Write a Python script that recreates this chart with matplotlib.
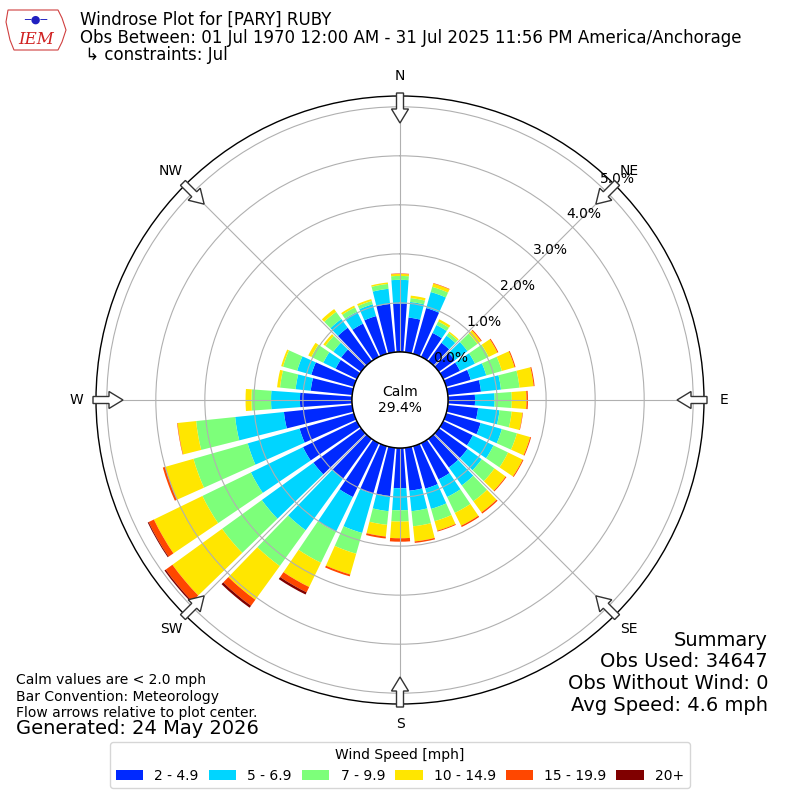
import numpy as np
import matplotlib
matplotlib.use("Agg")
import matplotlib.pyplot as plt
from matplotlib.patches import Circle, FancyArrow, Patch, Polygon

# direction bins (deg, meteorological, clockwise from N)
directions = np.arange(0, 360, 10)
speed_labels = ["2 - 4.9", "5 - 6.9", "7 - 9.9", "10 - 14.9", "15 - 19.9", "20+"]

# frequency [%] per direction for each speed bin
spd_2_5 = [0.99, 0.71, 0.97, 0.54, 0.46, 0.40, 0.38, 0.52, 0.68, 0.55, 0.62, 0.73,
           0.67, 0.72, 0.72, 0.82, 0.90, 0.88, 0.82, 0.99, 1.01, 1.22, 1.00, 1.20,
           1.22, 1.15, 1.40, 1.06, 0.85, 0.90, 0.48, 0.50, 0.84, 0.75, 0.80, 0.99]
spd_5_7 = [0.48, 0.32, 0.34, 0.18, 0.18, 0.32, 0.34, 0.33, 0.41, 0.40, 0.44, 0.45,
           0.47, 0.36, 0.45, 0.40, 0.43, 0.42, 0.45, 0.31, 0.83, 0.79, 1.30, 1.30,
           1.18, 1.10, 1.00, 0.59, 0.31, 0.30, 0.28, 0.20, 0.22, 0.27, 0.25, 0.31]
spd_7_10 = [0.08, 0.08, 0.11, 0.08, 0.07, 0.25, 0.31, 0.33, 0.38, 0.35, 0.25, 0.32,
            0.33, 0.32, 0.40, 0.36, 0.26, 0.31, 0.23, 0.28, 0.44, 0.70, 0.90, 1.00,
            1.10, 1.15, 0.80, 0.40, 0.32, 0.30, 0.27, 0.20, 0.18, 0.10, 0.07, 0.10]
spd_10_15 = [0.04, 0.05, 0.07, 0.05, 0.03, 0.09, 0.20, 0.27, 0.29, 0.30, 0.22, 0.28,
             0.33, 0.28, 0.28, 0.29, 0.20, 0.31, 0.34, 0.24, 0.44, 0.55, 0.85, 1.25,
             1.10, 0.60, 0.38, 0.12, 0.06, 0.04, 0.07, 0.05, 0.07, 0.04, 0.04, 0.03]
spd_15_20 = [0.01, 0.00, 0.01, 0.00, 0.00, 0.02, 0.02, 0.02, 0.02, 0.03, 0.01, 0.02,
             0.02, 0.02, 0.03, 0.03, 0.02, 0.03, 0.07, 0.04, 0.04, 0.12, 0.15, 0.17,
             0.12, 0.05, 0.01, 0.00, 0.00, 0.00, 0.00, 0.00, 0.00, 0.00, 0.00, 0.00]
spd_20p = [0.00, 0.00, 0.00, 0.00, 0.00, 0.00, 0.00, 0.00, 0.00, 0.00, 0.00, 0.00,
           0.00, 0.00, 0.00, 0.00, 0.00, 0.00, 0.00, 0.00, 0.00, 0.05, 0.05, 0.03,
           0.02, 0.00, 0.00, 0.00, 0.00, 0.00, 0.00, 0.00, 0.00, 0.00, 0.00, 0.00]
speed_bins = [spd_2_5, spd_5_7, spd_7_10, spd_10_15, spd_15_20, spd_20p]

calm_pct = 29.4
rticks = [0, 1, 2, 3, 4, 5]
compass = ["N", "NE", "E", "SE", "S", "SW", "W", "NW"]
summary = ["Summary", "Obs Used: 34647", "Obs Without Wind: 0", "Avg Speed: 4.6 mph"]
notes = ["Calm values are < 2.0 mph", "Bar Convention: Meteorology",
         "Flow arrows relative to plot center."]

colors = plt.cm.jet(np.linspace(1 / 6.0, 1, 6))

fig = plt.figure(figsize=(8, 8), dpi=100)
ax = fig.add_axes([0.12, 0.12, 0.76, 0.76], projection="polar")
ax.set_theta_zero_location("N")
ax.set_theta_direction(-1)

theta = np.deg2rad(directions)
width = np.deg2rad(10) * 0.82
base = np.zeros(len(directions))
for vals, c in zip(speed_bins, colors):
    vals = np.array(vals)
    ax.bar(theta, vals, width=width, bottom=base, color=c, linewidth=0, zorder=1)
    base += vals

ax.set_rorigin(-0.98)
ax.set_ylim(0, 5.22)
ax.set_yticks(rticks)
ax.set_yticklabels(["%.1f%%" % t for t in rticks], fontsize=10)
ax.set_rlabel_position(43)
ax.set_xticks(np.deg2rad(np.arange(0, 360, 45)))
ax.set_xticklabels([])
ax.grid(True, color="#b0b0b0", linewidth=0.8)
ax.spines["polar"].set_linewidth(1.0)

# calm circle
px = 1.0 / 608
ax.add_patch(Circle((0.5, 0.5), 48 * px, transform=ax.transAxes, facecolor="white",
                    edgecolor="black", linewidth=1, zorder=3, clip_on=False))
ax.text(0.5, 0.5, "Calm\n%.1f%%" % calm_pct, transform=ax.transAxes, ha="center",
        va="center", fontsize=10, zorder=4)

# flow arrows and compass labels
for i, lab in enumerate(compass):
    a = np.deg2rad(i * 45)
    ux, uy = np.sin(a), np.cos(a)
    r0, r1 = 307 * px, 277 * px
    ax.add_patch(FancyArrow(0.5 + r0 * ux, 0.5 + r0 * uy, (r1 - r0) * ux, (r1 - r0) * uy,
                            width=7 * px, head_width=17 * px, head_length=14 * px,
                            length_includes_head=True, transform=ax.transAxes,
                            facecolor="white", edgecolor="#333333", linewidth=1,
                            zorder=5, clip_on=False))
    rl = 324 * px
    ax.text(0.5 + rl * ux, 0.5 + rl * uy, lab, transform=ax.transAxes, ha="center",
            va="center", fontsize=10)

# header
fig.text(0.1, 1 - 20 / 800, "Windrose Plot for [PARY] RUBY", fontsize=12, va="center")
fig.text(0.1, 1 - 38 / 800,
         "Obs Between: 01 Jul 1970 12:00 AM - 31 Jul 2025 11:56 PM America/Anchorage",
         fontsize=12, va="center")
fig.text(0.1, 1 - 55 / 800, " \u21b3 constraints: Jul", fontsize=12, va="center")

# logo placeholder
iowa = [(8, 10), (58, 10), (62, 18), (66, 30), (62, 42), (58, 50), (14, 50), (10, 40), (6, 22)]
fig.add_artist(Polygon([(x / 800, 1 - y / 800) for x, y in iowa], closed=True,
                       facecolor="none", edgecolor="#d04040", linewidth=0.8,
                       transform=fig.transFigure))
fig.text(36 / 800, 1 - 40 / 800, "IEM", color="#d02020", fontsize=12, style="italic",
         family="serif", ha="center", va="center")
fig.text(36 / 800, 1 - 20 / 800, "\u2500\u25cf\u2500", color="#2020c0", fontsize=8,
         ha="center", va="center")

# footer notes
for j, t in enumerate(notes):
    fig.text(16 / 800, 1 - (680 + 16.5 * j) / 800, t, fontsize=10, va="center")
fig.text(16 / 800, 1 - 729 / 800, "Generated: 24 May 2026", fontsize=14, va="center")

for j, t in enumerate(summary):
    fig.text(768 / 800, 1 - (640 + 21.7 * j) / 800, t, fontsize=14, ha="right", va="center")

handles = [Patch(facecolor=c) for c in colors]
fig.legend(handles, speed_labels, loc="lower center", bbox_to_anchor=(0.5, 0.006),
           ncol=6, title="Wind Speed [mph]", fontsize=10, title_fontsize=10,
           columnspacing=0.7)

fig.savefig("out.png", dpi=100)
